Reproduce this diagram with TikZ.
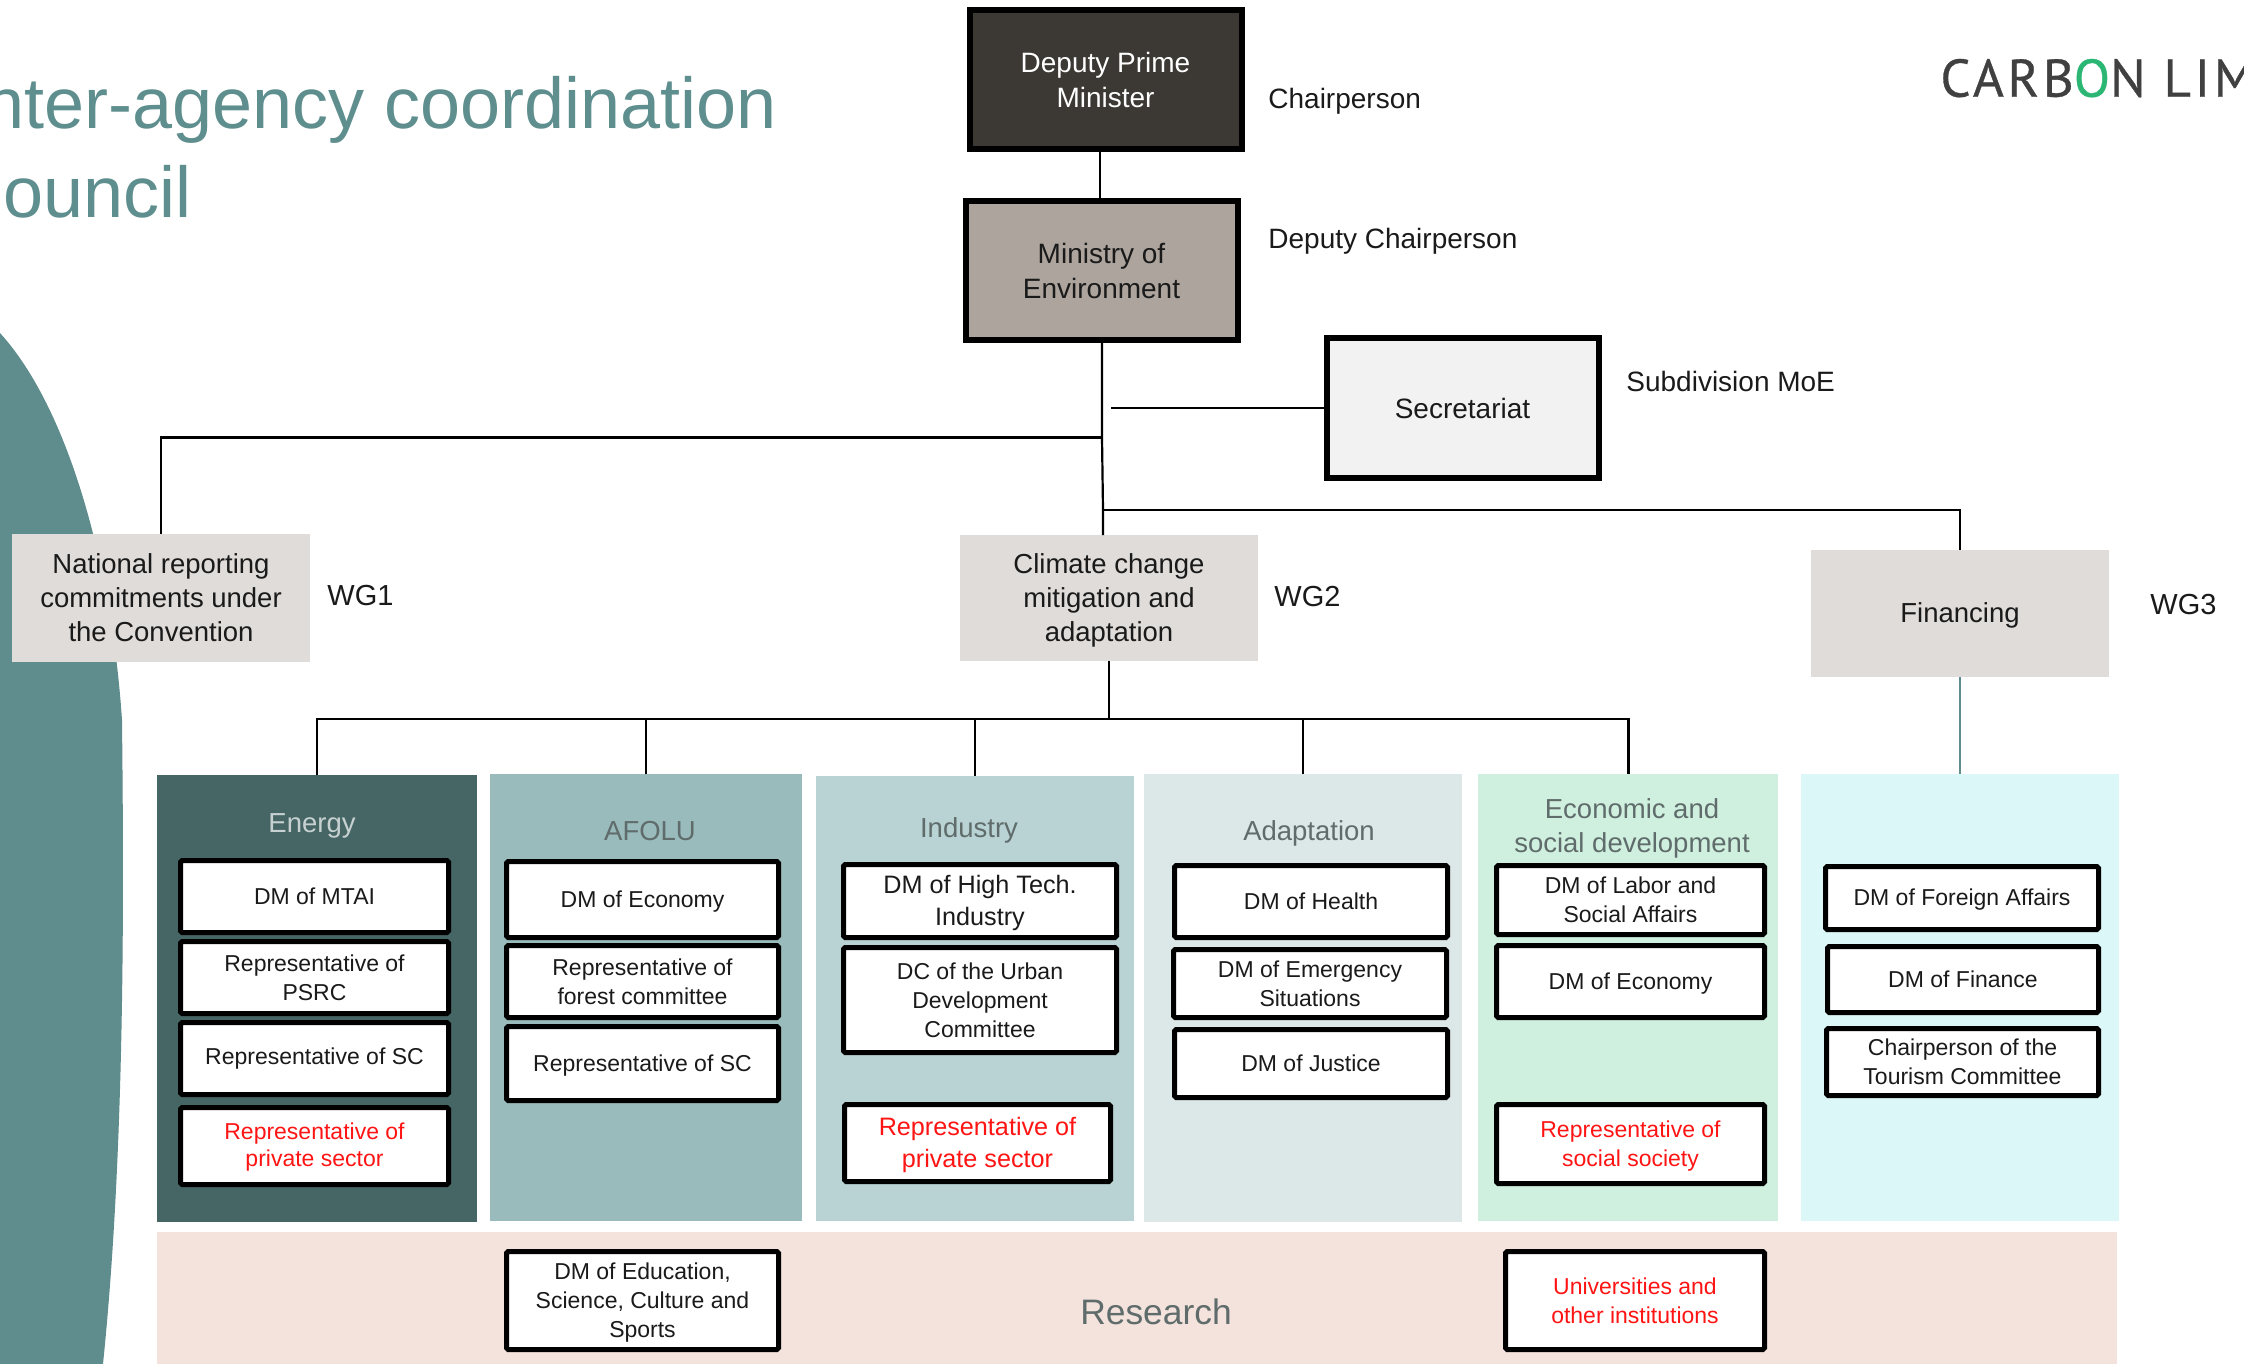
\documentclass[tikz,border=0pt]{standalone}
\usepackage{fontspec}
\setmainfont{Liberation Sans}
\newfontfamily\logofont[LetterSpace=7,FakeBold=0.6]{PT Sans}
\usetikzlibrary{calc}
\definecolor{tealbig}{HTML}{5F8C8C}
\definecolor{titlecol}{HTML}{5F8E8E}
\definecolor{pEnergy}{HTML}{456664}
\definecolor{pAfolu}{HTML}{99BBBB}
\definecolor{pIndustry}{HTML}{B9D2D3}
\definecolor{pAdapt}{HTML}{DCE8E7}
\definecolor{pEcon}{HTML}{D0F0DF}
\definecolor{pFin}{HTML}{DCF7F7}
\definecolor{pRes}{HTML}{F4E3DC}
\definecolor{wgGrey}{HTML}{DFDCD9}
\definecolor{dpmFill}{HTML}{3C3934}
\definecolor{moeFill}{HTML}{ACA49D}
\definecolor{secFill}{HTML}{F2F2F2}
\definecolor{ink}{HTML}{1A1A1A}
\definecolor{redtext}{HTML}{FF1414}
\definecolor{titleDark}{HTML}{5F6C6B}
\definecolor{logoGrey}{HTML}{404040}
\definecolor{logoGreen}{HTML}{2BB673}
\newcommand\fs[2]{\fontsize{#1pt}{#2pt}\selectfont}
\newcommand\dn[1]{\raisebox{-1pt}[\height][\depth]{#1}}
% outer-box helpers: style, name, x0, y0, x1, y1, text (pixel coordinates)
\newcommand\flatbox[7]{%
  \pgfmathsetmacro\cxv{(#3+#5)/2}\pgfmathsetmacro\cyv{(#4+#6)/2}%
  \pgfmathsetmacro\bwv{(#5-#3)*0.5}\pgfmathsetmacro\bhv{(#6-#4)*0.5}%
  \node[#1,minimum width=\bwv pt,minimum height=\bhv pt] (#2) at (\cxv,\cyv) {#7};}
\newcommand\linebox[7]{%
  \pgfmathsetmacro\cxv{(#3+#5)/2}\pgfmathsetmacro\cyv{(#4+#6)/2}%
  \pgfmathsetmacro\bwv{(#5-#3)*0.5-2.5}\pgfmathsetmacro\bhv{(#6-#4)*0.5-2.5}%
  \node[#1,minimum width=\bwv pt,minimum height=\bhv pt] (#2) at (\cxv,\cyv) {#7};}
\tikzset{
  base/.style={inner sep=0pt,outer sep=0pt,align=center,text=ink},
  panel/.style={base,rectangle},
  wgbox/.style={base,fill=wgGrey,font={\fs{13.75}{17}}},
  topbox/.style={base,draw=black,line width=3pt,font={\fs{14}{17.3}}},
  member/.style={base,draw=black,fill=white,line width=2.5pt,rounded corners=0.8pt,font={\fs{11.5}{14.4}}},
  memberlg/.style={member,font={\fs{12.6}{16}}},
  redmember/.style={member,text=redtext},
  redmemberlg/.style={memberlg,text=redtext},
  sidelabel/.style={inner sep=0pt,anchor=mid west,text=ink,font={\fs{14}{17}}},
  wglabel/.style={sidelabel,font={\fs{14.5}{17}}},
  head/.style={inner sep=0pt,anchor=mid,align=center,font={\fs{13.75}{17}}},
  wire/.style={draw=black,line width=1.1pt},
  bigtitle/.style={inner sep=0pt,anchor=base east,text=titlecol,font={\fs{36}{40}}}
}
\begin{document}
\begin{tikzpicture}[x=0.5pt,y=-0.5pt]
\useasboundingbox (0,0) rectangle (2244,1364);
% teal shape
\fill[tealbig] (0,333) .. controls (70,410) and (112,570) .. (122,720)
  .. controls (124,900) and (125,1150) .. (103,1364) -- (0,1364) -- cycle;
% title
\node[bigtitle] (title1) at (777,128.5) {nter-agency coordination};
\node[bigtitle] (title2) at (192,218) {ouncil};
% logo
\node[inner sep=0pt,anchor=base west,text=logoGrey,font={\logofont\fs{26.5}{30}}] (logo) at (1940,96.7) {CARB\textcolor{logoGreen}{O}N LIM};
% panels
\flatbox{panel,fill=pEnergy}{energy}{157}{775}{477}{1222}{}
\flatbox{panel,fill=pAfolu}{afolu}{490}{774}{802}{1221}{}
\flatbox{panel,fill=pIndustry}{industry}{816}{776}{1134}{1221}{}
\flatbox{panel,fill=pAdapt}{adapt}{1144}{774}{1462}{1222}{}
\flatbox{panel,fill=pEcon}{econ}{1478}{774}{1778}{1221}{}
\flatbox{panel,fill=pFin}{finpanel}{1801}{774}{2119}{1221}{}
\flatbox{panel,fill=pRes}{research}{157}{1232}{2117}{1364}{}
% panel headings
\node[head,text=pEnergy!30!white] (hEnergy) at (312,827) {Energy};
\node[head,text=titleDark] (hAfolu) at (650,835) {AFOLU};
\node[head,text=titleDark] (hIndustry) at (969,832) {Industry};
\node[head,text=titleDark] (hAdapt) at (1309,835) {Adaptation};
\node[head,anchor=center,text=titleDark] (hEcon) at (1632,828) {Economic and\\social development};
\node[head,text=titleDark,font={\fs{17.7}{20}}] (hResearch) at (1156,1319) {Research};
% top boxes
\linebox{topbox,fill=dpmFill,text=white}{dpm}{967}{8}{1244}{152}{Deputy Prime\\Minister}
\linebox{topbox,fill=moeFill}{moe}{963}{199}{1240}{343}{Ministry of\\Environment}
\linebox{topbox,fill=secFill}{sec}{1324}{336}{1601}{480}{Secretariat}
% working groups
\flatbox{wgbox}{wg1}{12}{534}{310}{662}{National reporting\\commitments under\\the Convention}
\flatbox{wgbox}{wg2}{960}{535}{1258}{661}{\dn{Climate change}\\\dn{mitigation and}\\\dn{adaptation}}
\flatbox{wgbox}{wg3}{1811}{550}{2109}{677}{\dn{Financing}}
% side labels
\node[sidelabel] (lChair) at (1268,103.5) {Chairperson};
\node[sidelabel] (lDeputy) at (1268,243.5) {Deputy Chairperson};
\node[sidelabel] (lSub) at (1626,386.5) {Subdivision MoE};
\node[wglabel] (lWG1) at (327,600) {WG1};
\node[wglabel] (lWG2) at (1274,601) {WG2};
\node[wglabel] (lWG3) at (2150,609) {WG3};
% energy members
\linebox{member}{e1}{178}{858}{451}{935}{DM of MTAI}
\linebox{member}{e2}{178}{939}{451}{1016}{Representative of\\PSRC}
\linebox{member}{e3}{178}{1020}{451}{1097}{Representative of SC}
\linebox{redmember}{e4}{178}{1105}{451}{1187}{\dn{Representative of}\\private sector}
% AFOLU members
\linebox{member}{a1}{504}{859}{781}{940}{\dn{DM of Economy}}
\linebox{member}{a2}{504}{943}{781}{1020}{Representative of\\forest committee}
\linebox{member}{a3}{504}{1024}{781}{1103}{\dn{Representative of SC}}
% industry members
\linebox{memberlg}{i1}{841}{862}{1119}{940}{\dn{DM of High Tech.}\\\dn{Industry}}
\linebox{member}{i2}{841}{945}{1119}{1055}{DC of the Urban\\Development\\Committee}
\linebox{redmemberlg}{i3}{842}{1102}{1113}{1184}{\dn{Representative of}\\\dn{private sector}}
% adaptation members
\linebox{member}{d1}{1172}{863}{1450}{940}{DM of Health}
\linebox{member}{d2}{1171}{947}{1449}{1020}{DM of Emergency\\Situations}
\linebox{member}{d3}{1172}{1027}{1450}{1100}{DM of Justice}
% economic members
\linebox{member}{c1}{1494}{863}{1767}{937}{DM of Labor and\\Social Affairs}
\linebox{member}{c2}{1494}{943}{1767}{1020}{\dn{DM of Economy}}
\linebox{redmember}{c3}{1494}{1102}{1767}{1186}{\dn{Representative of}\\\dn{social society}}
% financing members
\linebox{member}{f1}{1823}{864}{2101}{932}{\dn{DM of Foreign Affairs}}
\linebox{member}{f2}{1825}{944}{2101}{1015}{DM of Finance}
\linebox{member}{f3}{1824}{1026}{2101}{1098}{Chairperson of the\\Tourism Committee}
% research members
\linebox{member}{r1}{504}{1249}{781}{1352}{\dn{DM of Education,}\\\dn{Science, Culture and}\\\dn{Sports}}
\linebox{redmember}{r2}{1503}{1249}{1767}{1352}{Universities and\\other institutions}
% junctions
\coordinate (xTop) at (1100,175);
\coordinate (xTrunk) at (1102,437.5);
\coordinate (jRight) at (1103,510);
\coordinate (secStart) at (1111,408);
\coordinate (jLeft) at (161,437.5);
\coordinate (jFin) at (1960,510);
\coordinate (xDrop) at (1109,719);
\coordinate (jE) at (317,719);
\coordinate (jA) at (646,719);
\coordinate (jI) at (975,719);
\coordinate (jD) at (1303,719);
\coordinate (jC) at (1628.5,719);
% connectors
\draw[wire] (xTop |- dpm.south) -- (xTop |- moe.north);
\draw[wire] (xTrunk |- moe.south) -- (xTrunk) -- (jRight) -- (jRight |- wg2.north);
\draw[wire] (secStart) -- (sec.west |- secStart);
\draw[wire] (xTrunk) -- (jLeft) -- (jLeft |- wg1.north);
\draw[wire] (jRight) -- (jFin) -- (jFin |- wg3.north);
\draw[wire] (xDrop |- wg2.south) -- (xDrop);
\draw[wire] (jE |- energy.north) -- (jE) -- (jC) -- (jC |- econ.north);
\draw[wire] (jA) -- (jA |- afolu.north);
\draw[wire] (jI) -- (jI |- industry.north);
\draw[wire] (jD) -- (jD |- adapt.north);
\draw[draw=tealbig,line width=1pt] (jFin |- wg3.south) -- (jFin |- finpanel.north);
\end{tikzpicture}
\end{document}
